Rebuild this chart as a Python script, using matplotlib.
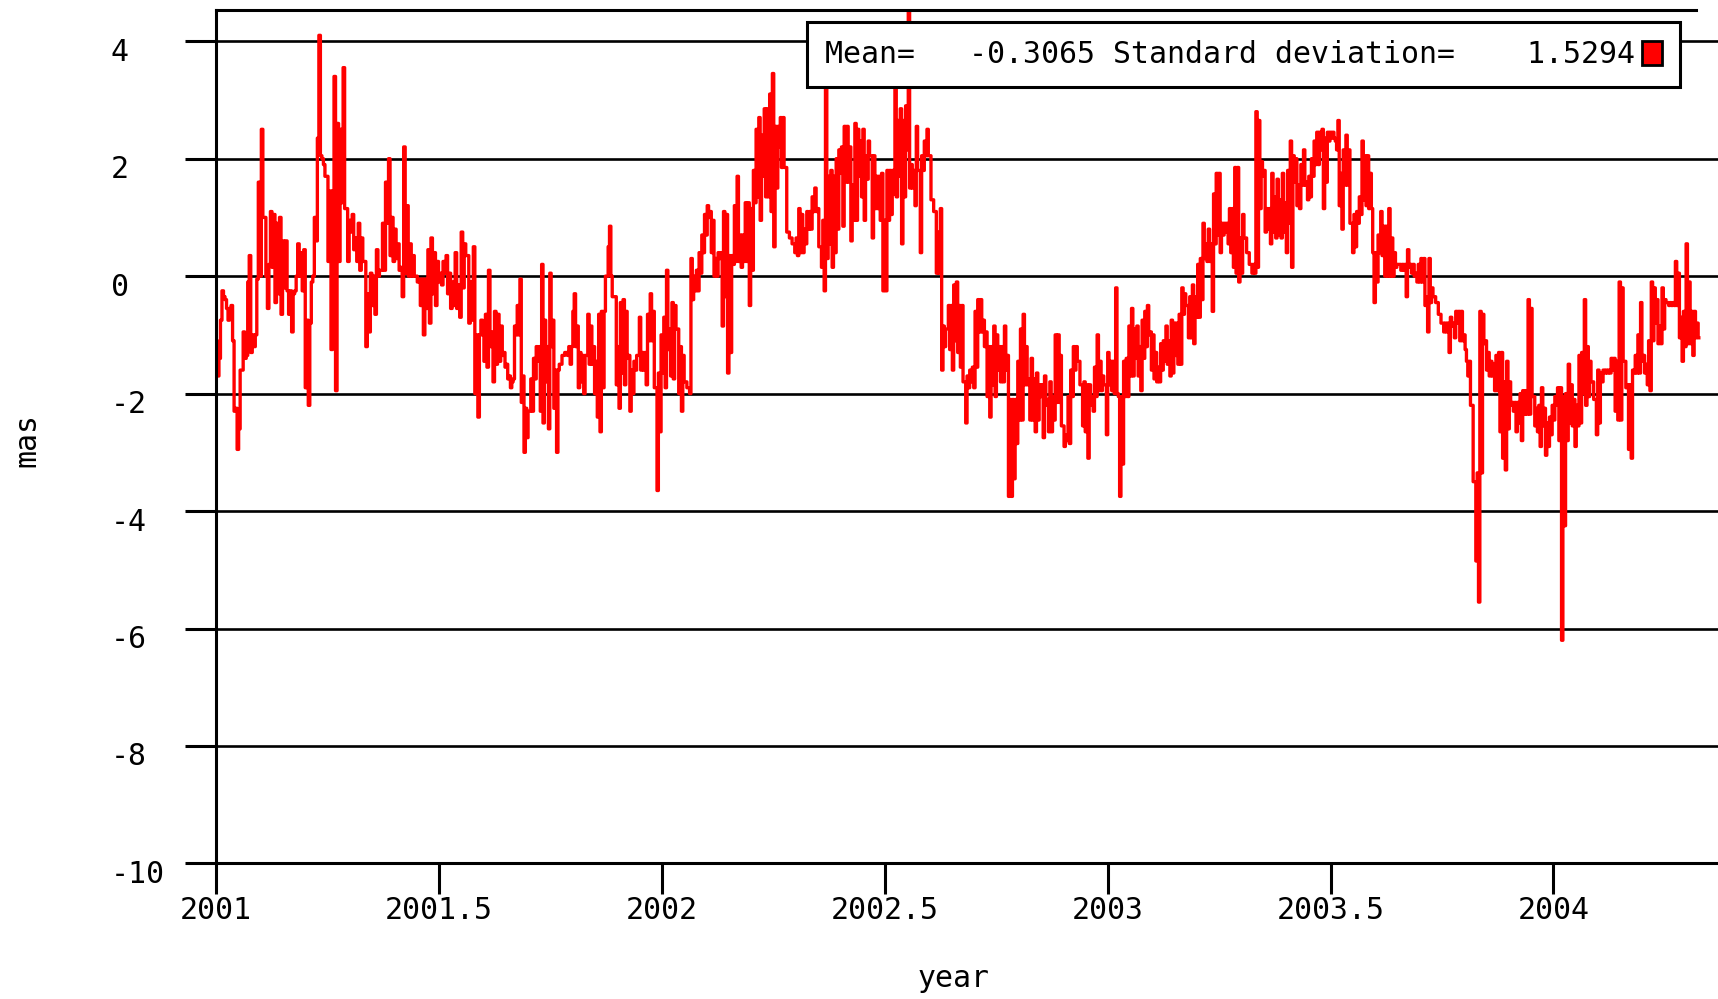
import matplotlib.pyplot as plt
import numpy as np
from matplotlib.patches import Patch
from matplotlib.transforms import ScaledTranslation

# mas values, in five stretches of the time axis
mas_a = [-1.1, -1.7, -1.4, -0.75, -0.25, -0.35, -0.4, -0.55, -0.75, -0.55,
         -0.5, -1.1, -2.3, -2.25, -2.95, -2.6, -1.6, -1.6, -0.95, -1.4,
         -1.35, -0.1, 0.35, -1.3, -1.0, -1.2, -1.0, -0.05, 1.6, 0.0,
         2.5, 1.0, 1.0, 0.0, -0.55, 0.2, 1.1, 0.15, 1.05, -0.45,
         0.9, -0.3, 1.0, -0.65, 0.6, -0.2, 0.6, -0.25, -0.65, -0.25,
         -0.95, -0.3, -0.25, 0.0, 0.55, 0.0, 0.4, -0.25, 0.45, -1.9,
         -0.75, -2.2, -0.8, -0.1, 0.0, 1.0, 0.6, 2.35, 4.1, 2.05,
         2.0, 1.9, 1.7, 1.7, 0.25, 1.45, -1.25, 1.45, 3.4, -1.95,
         2.6, 0.25, 2.5, 1.25, 3.55, 1.15, 1.15, 0.25, 0.95, 0.75,
         1.05, 0.45, 0.65, 0.25, 0.9, 0.1, 0.65, 0.25, 0.25, -1.2,
         -0.3, -0.95, 0.05, -0.5, 0.0, -0.65, 0.45, 0.0, 0.1, 0.1,
         0.9, 0.1, 1.6, 0.9, 2.0, 0.35, 1.0, 0.25, 0.8, 0.3,
         0.55, 0.1, 0.15, -0.35, 2.2, 0.05, 1.2, 0.0, 0.55, 0.0,
         0.35, 0.0, 0.0, -0.1, -0.05, -0.5, -0.05, -1.0, -0.05, -0.55,
         0.45, -0.8, 0.65, -0.3, 0.4, -0.5, 0.25, -0.1, 0.05, -0.15,
         0.25, 0.05, 0.35, -0.3, 0.05, -0.55, -0.1, -0.5, 0.4, -0.55,
         -0.15, -0.7, 0.75, -0.2, 0.55, 0.35, 0.35, -0.8, -0.1, -0.75,
         0.5, -2.0, -1.0, -2.4, -1.0, -0.75, -1.0, -1.45, -0.65, -1.55,
         0.1, -1.2, -0.95, -1.8, -0.6, -1.5, -0.65, -1.45]
mas_b = [-0.85, -1.35, -1.3, -1.55, -1.5, -1.75, -1.7, -1.9, -1.8, -1.75,
         -0.85, -1.0, -0.5, -1.0, -0.05, -2.15, -1.7, -3.0, -2.25, -2.75,
         -2.3, -2.3, -1.75, -2.3, -1.4, -1.75, -1.2, -1.45, -1.2, -2.3,
         0.2, -2.5, -0.75, -1.8, -1.2, -2.6, 0.05, -1.2, -0.75, -2.25,
         -1.6, -3.0, -1.6, -1.5, -1.5, -1.35, -1.35, -1.3, -1.3, -1.35,
         -1.2, -1.5, -1.2, -0.6, -0.3, -1.2, -0.85, -1.9, -1.3, -1.8,
         -1.35, -2.0, -1.35, -1.35, -0.65, -1.5, -0.85, -1.5, -1.2, -2.0,
         -1.45, -2.4, -0.65, -2.65, -0.6, -1.9, -0.6, 0.0, 0.0, 0.5,
         0.85, 0.0, -0.35, -0.35, -0.35, -1.85, -1.2, -2.25, -0.45, -1.65,
         -0.4, -1.85, -0.6, -1.4, -1.35, -2.3, -1.6, -2.0, -1.45, -1.6,
         -1.35, -1.35, -0.7, -1.6, -1.3, -1.6, -1.3, -1.85, -0.65, -1.1,
         -0.3, -1.1, -0.6, -1.9, -1.9, -3.65, -1.65, -2.65, -1.0, -1.65,
         -0.7, -1.9, 0.1, -1.25, -0.9, -1.7, -0.45, -1.75, -0.5, -0.9,
         -0.9, -2.0, -1.2, -2.3, -1.35, -1.8, -1.8, -1.9, -1.9, -2.0,
         0.3, -0.4, 0.0, -0.25, 0.1, -0.25, 0.4, 0.05, 0.7, 0.4,
         1.05, 0.7, 1.2, 1.0, 1.1, 0.4, 0.95, 0.0, 0.3, 0.0,
         0.4, 0.3, 0.4, -0.85, 1.1, -0.35, 1.05, -1.65, 0.35, -1.3,
         0.35, 0.2, 1.2, 0.25, 1.7, 0.25, 0.7, 0.15, 0.7, 0.25,
         1.25, 0.25, 1.25, -0.5, 1.15, 0.1, 1.8, 1.25, 2.5, 1.35,
         2.7, 0.95, 2.4, 1.7, 2.85, 1.35, 2.85, 1.35, 3.1, 1.1,
         3.45, 0.5, 2.55, 1.5, 2.55, 2.2]
mas_c = [2.7, 1.85, 2.7, 1.85, 1.85, 0.75, 0.75, 0.65, 0.65, 0.55,
         0.55, 0.4, 0.65, 0.35, 1.15, 0.4, 1.05, 0.4, 0.8, 0.55,
         1.1, 0.8, 1.1, 0.8, 1.35, 1.1, 1.5, 1.1, 1.15, 0.5,
         0.5, 0.15, 0.95, -0.25, 3.6, 0.3, 1.7, 0.55, 1.8, 0.15,
         1.7, 0.4, 2.0, 0.8, 2.15, 1.75, 2.2, 0.85, 2.55, 1.6,
         2.55, 1.6, 2.2, 0.6, 1.55, 0.95, 2.6, 0.95, 2.5, 1.7,
         2.3, 1.35, 2.5, 0.95, 2.05, 1.65, 2.3, 2.05, 2.05, 0.65,
         2.05, 1.15, 1.7, 1.15, 1.7, 0.95, 1.75, -0.25, 0.95, -0.25,
         1.8, 0.95, 1.8, 1.05, 1.8, 1.4, 3.3, 1.35, 2.65, 1.7,
         2.85, 0.55, 2.65, 1.35, 2.9, 2.15, 4.7, 1.5, 1.9, 1.5,
         1.8, 1.2, 2.55, 1.8, 1.8, 0.4, 2.05, 1.8, 2.3, 2.05,
         2.5, 2.05, 2.05, 1.3, 1.3, 1.1, 1.1, 0.05, 0.75, 0.05,
         1.15, -1.6, -0.85, -1.2, -0.9, -0.9, -0.5, -1.25, -0.5, -1.6,
         -0.15, -1.1, -0.1, -1.3, -0.5, -1.55, -0.5, -1.8, -1.8, -2.5,
         -1.7, -1.9, -1.6, -1.8, -1.55, -1.9, -0.6, -1.55, -0.4, -0.95,
         -0.4, -0.95, -0.75, -1.2, -0.95, -2.05, -1.2, -2.4, -1.2, -1.85,
         -0.85, -2.05, -1.0, -1.6, -1.2, -1.8, -1.2, -1.8, -0.85, -1.6,
         -1.35, -3.75, -2.1, -3.75, -2.1, -3.45, -2.1, -2.85, -1.45, -2.45,
         -0.9, -2.45, -0.65, -1.85, -1.2, -1.85, -1.75, -2.45, -1.4, -2.45,
         -1.75, -2.65, -1.65, -2.45, -1.85, -2.05, -1.85, -2.75, -1.7, -2.2,
         -2.1, -2.65, -1.8, -2.65, -2.05, -2.45, -1.0, -2.15, -1.0, -2.15]
mas_d = [-1.35, -2.55, -2.55, -2.9, -2.7, -2.8, -2.05, -2.85, -1.6, -2.05,
         -1.2, -1.6, -1.2, -1.45, -1.45, -1.85, -1.85, -2.55, -1.8, -2.65,
         -1.85, -3.1, -1.85, -2.2, -2.05, -2.3, -1.55, -2.05, -1.0, -1.95,
         -1.45, -1.95, -1.7, -1.85, -1.85, -2.7, -1.3, -1.85, -1.45, -1.95,
         -1.45, -2.0, -0.2, -2.0, -2.05, -3.75, -2.05, -3.2, -1.45, -2.05,
         -1.4, -2.05, -0.85, -1.7, -0.55, -1.7, -0.9, -1.4, -0.85, -1.7,
         -1.2, -1.95, -0.75, -1.4, -0.6, -1.2, -0.5, -1.0, -0.95, -1.6,
         -1.0, -1.75, -1.3, -1.8, -1.55, -1.8, -1.15, -1.6, -1.1, -1.45,
         -0.85, -1.5, -1.1, -1.7, -0.75, -1.65, -0.8, -1.35, -0.8, -1.5,
         -0.65, -1.5, -0.2, -0.65, -0.3, -0.5, -0.5, -1.05, -0.35, -1.05,
         -0.15, -1.15, -0.35, -0.7, 0.2, -0.7, 0.3, -0.4, 0.9, 0.3,
         0.55, 0.25, 0.8, 0.25, 0.55, -0.6, 1.4, 0.55, 1.75, 0.7,
         1.75, 0.4, 0.9, 0.7, 0.9, 0.75, 0.9, 0.55, 1.15, 0.4,
         1.15, 0.15, 1.85, 0.05, 1.85, -0.1, 0.65, 0.05, 1.05, 0.65,
         0.65, 0.4, 0.4, 0.2, 0.2, 0.05, 0.2, 0.05, 2.8, 0.15,
         2.65, 1.15, 1.95, 1.7, 1.8, 0.75, 1.15, 0.8, 1.15, 0.55,
         1.75, 0.75, 1.35, 0.65, 1.65, 0.7, 1.3, 0.65, 1.75, 0.75,
         1.25, 0.4, 1.8, 0.9, 2.3, 0.15, 2.05, 1.6, 2.0, 1.2,
         1.55, 1.15, 1.9, 1.55, 2.15, 1.55, 1.6, 1.3, 1.7, 1.35,
         2.0, 1.7, 2.3, 1.9, 2.45, 1.9, 2.45, 2.15, 2.5, 1.15,
         2.35, 1.6, 2.45, 2.3, 2.45, 2.35, 2.45, 2.35, 2.3, 2.15,
         2.65, 1.2]
mas_e = [1.75, 0.8, 2.15, 1.55, 2.4, 1.55, 2.15, 0.9, 0.9, 0.4,
         1.05, 0.5, 1.1, 0.9, 1.35, 1.05, 2.3, 1.3, 2.05, 1.2,
         2.05, 1.15, 1.75, 1.15, 0.4, -0.45, 0.4, -0.1, 0.7, 0.4,
         1.1, 0.35, 0.85, 0.0, 0.85, 0.0, 1.15, 0.0, 0.65, 0.0,
         0.4, 0.15, 0.2, 0.2, 0.2, 0.1, 0.2, 0.1, 0.2, -0.35,
         0.45, 0.15, 0.2, 0.05, 0.2, 0.0, 0.05, -0.1, 0.2, -0.1,
         0.3, -0.1, 0.3, -0.5, -0.35, -0.95, 0.3, -0.45, -0.2, -0.35,
         -0.35, -0.45, -0.45, -0.65, -0.65, -0.8, -0.8, -0.95, -0.8, -0.95,
         -0.8, -1.3, -0.7, -0.85, -0.8, -1.05, -0.6, -0.8, -0.6, -1.1,
         -0.6, -1.1, -1.0, -1.25, -1.45, -1.7, -1.45, -2.2, -2.2, -3.5,
         -3.5, -4.85, -3.35, -5.55, -0.6, -3.35, -0.65, -1.15, -1.1, -1.6,
         -1.3, -1.7, -1.45, -1.7, -1.5, -1.95, -1.35, -1.95, -1.3, -2.65,
         -1.3, -3.1, -1.8, -3.3, -1.45, -2.6, -1.8, -2.2, -2.15, -2.3,
         -2.15, -2.65, -2.15, -2.5, -2.0, -2.8, -1.95, -2.35, -1.95, -2.35,
         -0.4, -2.35, -0.55, -2.05, -2.05, -2.55, -2.25, -2.65, -2.2, -2.9,
         -1.9, -2.55, -2.25, -3.05, -2.5, -2.9, -2.4, -2.7, -2.2, -2.45,
         -2.05, -2.2, -1.9, -2.8, -1.9, -6.2, -2.05, -4.25, -2.0, -2.8,
         -1.5, -2.5, -1.85, -2.55, -2.1, -2.9, -2.2, -2.55, -1.35, -2.5,
         -1.3, -2.0, -0.4, -2.2, -1.2, -2.05, -1.45, -1.8, -1.8, -2.1,
         -2.1, -2.7, -1.6, -2.5, -1.65, -1.8, -1.6, -1.65, -1.6, -1.65,
         -1.6, -1.65, -1.4, -1.6, -1.4, -2.3, -1.45, -2.45, -0.1, -2.45,
         -0.2, -1.45, -1.45, -1.9, -1.85, -2.95, -1.85, -3.1, -1.6, -1.65,
         -1.35, -1.65, -1.0, -1.65, -0.45, -1.45, -1.35, -1.65, -1.5, -1.85,
         -1.1, -1.95, -0.1, -1.1, -0.2, -0.8, -0.4, -1.15, -0.85, -1.15,
         -0.2, -0.9, -0.4, -0.45, -0.45, -0.5, -0.45, -0.5, -0.45, -0.5,
         0.25, -0.5, 0.05, -1.05, -0.7, -1.45, -0.6, -1.2, 0.55, -1.15,
         -0.1, -1.15, -0.6, -1.35, -0.6, -1.05, -0.8, -1.05]

# first and last year of each stretch (samples are evenly spaced inside)
spans = [(2001.002, 2001.637), (2001.641, 2002.265), (2002.267, 2002.893),
         (2002.895, 2003.521), (2003.524, 2004.326)]
chunks = [mas_a, mas_b, mas_c, mas_d, mas_e]

yticks = [4, 2, 0, -2, -4, -6, -8, -10]
ytick_labels = ['4', '2', '0', '-2', '-4', '-6', '-8', '-10']
xticks = [2001, 2001.5, 2002, 2002.5, 2003, 2003.5, 2004]
xtick_labels = ['2001', '2001.5', '2002', '2002.5', '2003', '2003.5', '2004']
mean_val = -0.3065
std_val = 1.5294

plt.rcParams['font.family'] = ['DejaVu Sans Mono']
plt.rcParams['font.size'] = 21.5

fig = plt.figure(figsize=(17.18, 9.99), dpi=100)
ax = fig.add_axes([0.1256, 0.1357, 0.8744, 0.8542])

year = np.concatenate([np.linspace(a, b, len(v)) for (a, b), v in zip(spans, chunks)])
mas = np.concatenate(chunks)
ax.plot(year, mas, color='red', lw=2.4, drawstyle='steps-mid')

ax.set_xlim(2001, 2004.369)
ax.set_ylim(-10, 4.53)

ax.set_yticks(yticks)
ax.set_yticklabels(ytick_labels, ha='left')
ax.set_xticks(xticks)
ax.set_xticklabels(xtick_labels)
ax.tick_params(axis='both', direction='out', length=22.5, width=2.2, colors='black')
ax.tick_params(axis='y', pad=53.2)
ax.tick_params(axis='x', pad=1)
# gnuplot puts the y labels a little below their grid line
shift = ScaledTranslation(0, -8 / 100, fig.dpi_scale_trans)
for lab in ax.get_yticklabels():
    lab.set_transform(lab.get_transform() + shift)

ax.yaxis.grid(True, color='black', lw=1.9)

for side in ['left', 'bottom', 'top']:
    ax.spines[side].set_linewidth(2.2)
ax.spines['right'].set_visible(False)
ax.spines['top'].set_bounds(2001, 2004.32)

ax.set_xlabel('year', va='center')
ax.xaxis.set_label_coords(0.4909, -0.1343)
ax.set_ylabel('mas', va='center', ha='center')
ax.yaxis.set_label_coords(-0.1257, 0.496)

label = f'Mean={mean_val:10.4f} Standard deviation={std_val:10.4f}'
leg = ax.legend(handles=[Patch(facecolor='red', edgecolor='black', linewidth=2)],
                labels=[label], loc='upper left',
                bbox_to_anchor=(807 / 1718, 1 - 22.3 / 999), bbox_transform=fig.transFigure,
                markerfirst=False, fancybox=False, framealpha=1, edgecolor='black',
                borderpad=0.6, handlelength=0.65, handleheight=0.87, handletextpad=0.25,
                borderaxespad=0)
leg.get_frame().set_linewidth(2.2)

fig.savefig('out.png', dpi=100)
